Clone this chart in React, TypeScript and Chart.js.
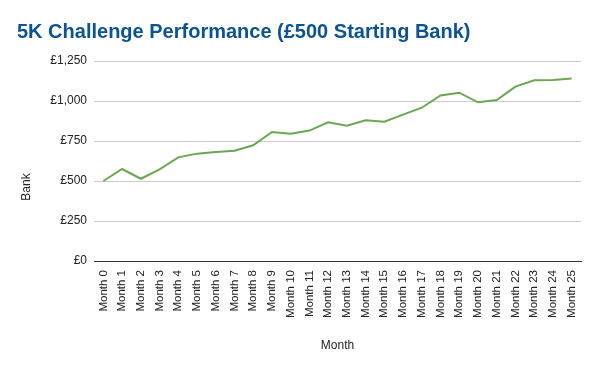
import React, { useEffect, useRef } from "react";
import { Chart, registerables } from "chart.js";

Chart.register(...registerables);

const months: string[] = [
  "Month 0", "Month 1", "Month 2", "Month 3", "Month 4", "Month 5", "Month 6",
  "Month 7", "Month 8", "Month 9", "Month 10", "Month 11", "Month 12", "Month 13",
  "Month 14", "Month 15", "Month 16", "Month 17", "Month 18", "Month 19", "Month 20",
  "Month 21", "Month 22", "Month 23", "Month 24", "Month 25",
];

const bank: number[] = [
  500, 575, 514, 573, 648, 671, 681, 689, 723, 806, 796, 815, 867, 846,
  879, 871, 915, 958, 1035, 1052, 992, 1006, 1090, 1129, 1131, 1140,
];

const yMin = 0;
const yMax = 1250;
const yStep = 250;
const yTitle = "Bank";

const FONT = "Arial, 'Liberation Sans', sans-serif";

const yTitlePlugin = {
  id: "yTitlePlugin",
  afterDraw(chart: any) {
    const ctx = chart.ctx;
    ctx.save();
    ctx.translate(27, 187);
    ctx.rotate(-Math.PI / 2);
    ctx.font = `12px ${FONT}`;
    ctx.fillStyle = "#222222";
    ctx.textAlign = "center";
    ctx.textBaseline = "middle";
    ctx.fillText(yTitle, 0, 0);
    ctx.restore();
  },
};

export default function App() {
  const ref = useRef<HTMLCanvasElement | null>(null);

  useEffect(() => {
    if (!ref.current) return;
    const chart = new Chart(ref.current, {
      type: "line",
      data: {
        labels: months,
        datasets: [
          {
            label: "Bank",
            data: bank,
            borderColor: "#6aa84f",
            backgroundColor: "#6aa84f",
            borderWidth: 2,
            pointRadius: 0,
            tension: 0,
          },
        ],
      },
      plugins: [yTitlePlugin],
      options: {
        animation: false,
        responsive: false,
        layout: { padding: { left: 17, right: 19, top: 0, bottom: 0 } },
        plugins: {
          legend: { display: false },
          tooltip: { enabled: false },
          title: {
            display: true,
            text: "5K Challenge Performance (£500 Starting Bank)",
            align: "start",
            color: "#0b5394",
            font: { family: FONT, size: 20, weight: "bold" },
            padding: { top: 20, bottom: 17 },
          },
        },
        scales: {
          x: {
            offset: true,
            grid: { display: false },
            border: { display: true, color: "#333333", width: 1 },
            ticks: {
              color: "#222222",
              font: { family: FONT, size: 11.5 },
              maxRotation: 90,
              minRotation: 90,
              autoSkip: false,
              padding: 1,
            },
            title: {
              display: true,
              text: "Month",
              color: "#222222",
              font: { family: FONT, size: 12 },
              padding: { top: 0, bottom: 18 },
            },
            afterFit: (scale: any) => {
              scale.height = 110;
            },
          },
          y: {
            min: yMin,
            max: yMax,
            grid: {
              color: (ctx: any) => (ctx.tick && ctx.tick.value === 0 ? "#333333" : "#cccccc"),
              drawTicks: false,
              lineWidth: 1,
            },
            border: { display: false },
            ticks: {
              stepSize: yStep,
              color: "#222222",
              font: { family: FONT, size: 12 },
              padding: 7,
              callback: (v: any) => "£" + Number(v).toLocaleString("en-GB"),
            },
            title: { display: false },
            afterFit: (scale: any) => {
              scale.width = 77;
            },
          },
        },
      },
    });
    return () => chart.destroy();
  }, []);

  return (
    <div style={{ position: "fixed", left: 0, top: 0, width: 600, height: 371, background: "#fff" }}>
      <canvas ref={ref} width={600} height={371} style={{ display: "block" }} />
    </div>
  );
}
